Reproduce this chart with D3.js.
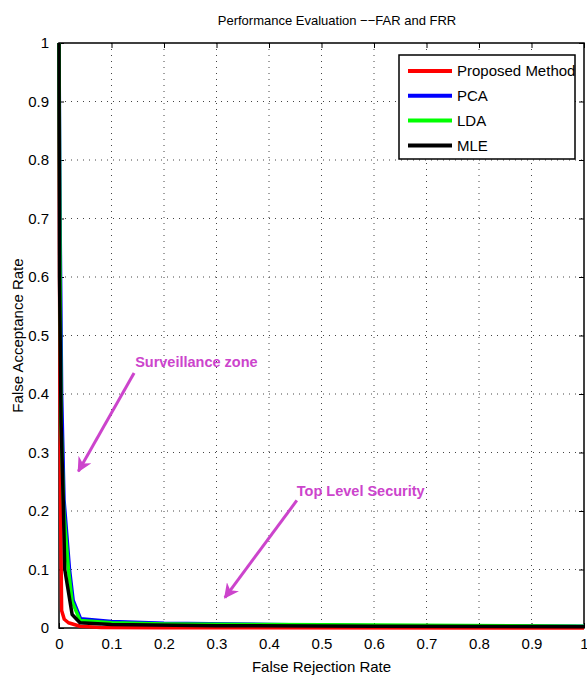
<!DOCTYPE html>
<html>
<head>
<meta charset="utf-8">
<script src="https://cdn.jsdelivr.net/npm/d3@7"></script>
<style>
  body { margin: 0; background: #fff; }
  svg { font-family: "Liberation Sans", Arial, sans-serif; }
</style>
</head>
<body>
<div id="chart"></div>
<script>
// FRR (x) vs FAR (y) per method
var proposed = [[0,1],[0.001,0.6],[0.003,0.2],[0.005,0.03],[0.01,0.015],[0.018,0.009],[0.04,0.003],[0.08,0.001],[0.2,0.0005],[1,0]]
var pca = [[0,1],[0.002,0.7],[0.005,0.4],[0.0095,0.22],[0.02,0.1],[0.027,0.047],[0.041,0.016],[0.1,0.011],[0.2,0.008],[0.4,0.006],[0.6,0.004],[1,0.003]]
var lda = [[0,1],[0.002,0.6],[0.004,0.35],[0.009,0.2],[0.018,0.1],[0.025,0.045],[0.04,0.013],[0.1,0.009],[0.2,0.007],[0.4,0.006],[0.6,0.005],[1,0.003]]
var mle = [[0,1],[0.001,0.6],[0.004,0.35],[0.008,0.22],[0.011,0.1],[0.025,0.023],[0.04,0.009],[0.1,0.006],[0.3,0.004],[0.6,0.003],[1,0.002]]

var series_names = ["Proposed Method", "PCA", "LDA", "MLE"]
var series_colors = ["#ff0000", "#0000ff", "#00ff00", "#000000"]
var ticks = [0, 0.1, 0.2, 0.3, 0.4, 0.5, 0.6, 0.7, 0.8, 0.9, 1]

// annotations: text anchor and arrow (from -> to) in data units
var notes = [
    {text: "Surveillance zone", at: [0.145, 0.455], from: [0.143, 0.436], to: [0.037, 0.268]},
    {text: "Top Level Security", at: [0.453, 0.234], from: [0.453, 0.218], to: [0.316, 0.052]}
]

var width = 587, height = 679
var margin = {top: 43, right: 3, bottom: 51, left: 59}
var w = width - margin.left - margin.right
var h = height - margin.top - margin.bottom

var x = d3.scaleLinear().domain([0, 1]).range([0, w])
var y = d3.scaleLinear().domain([0, 1]).range([h, 0])

var svg = d3.select("#chart")
    .append("svg")
    .attr("width", width)
    .attr("height", height)

svg.append("defs").append("marker")
    .attr("id", "head")
    .attr("viewBox", "0 0 10 10")
    .attr("refX", 9).attr("refY", 5)
    .attr("markerWidth", 5).attr("markerHeight", 5)
    .attr("markerUnits", "strokeWidth")
    .attr("orient", "auto")
    .append("path")
    .attr("d", "M0,0 L10,5 L0,10 L3,5 Z")
    .style("fill", "#cc44cc")

svg.append("text")
    .attr("x", 337)
    .attr("y", 25)
    .style("text-anchor", "middle")
    .style("font-size", "13px")
    .text("Performance Evaluation \u2212\u2212FAR and FRR")

var g = svg.append("g")
    .attr("transform", "translate(" + margin.left + "," + margin.top + ")")

// grid
g.selectAll(".gx").data(ticks.slice(1, -1)).enter().append("line")
    .attr("x1", d => x(d)).attr("x2", d => x(d))
    .attr("y1", 0).attr("y2", h)
    .style("stroke", "#444").style("stroke-dasharray", "1,5")
g.selectAll(".gy").data(ticks.slice(1, -1)).enter().append("line")
    .attr("y1", d => y(d)).attr("y2", d => y(d))
    .attr("x1", 0).attr("x2", w)
    .style("stroke", "#444").style("stroke-dasharray", "1,5")

// axes, ticks inside on all four sides
var fmt = d => d === 0 ? "0" : d === 1 ? "1" : d3.format(".1f")(d)
function styleAxis(sel) {
    sel.select(".domain").remove()
    sel.selectAll(".tick line").style("stroke", "#000")
    sel.selectAll(".tick text").style("font-size", "15px").style("fill", "#000")
        .style("font-family", "'Liberation Sans', Arial, sans-serif")
}
g.append("g").attr("transform", "translate(0," + h + ")")
    .call(d3.axisBottom(x).tickValues(ticks).tickFormat(fmt).tickSizeInner(-5).tickPadding(10))
    .call(styleAxis)
g.append("g")
    .call(d3.axisLeft(y).tickValues(ticks).tickFormat(fmt).tickSizeInner(-5).tickPadding(10))
    .call(styleAxis)
g.append("g")
    .call(d3.axisTop(x).tickValues(ticks).tickFormat("").tickSizeInner(-5))
    .call(styleAxis)
g.append("g").attr("transform", "translate(" + w + ",0)")
    .call(d3.axisRight(y).tickValues(ticks).tickFormat("").tickSizeInner(-5))
    .call(styleAxis)

g.append("rect")
    .attr("width", w).attr("height", h)
    .style("fill", "none").style("stroke", "#000").style("stroke-width", 1.5)

// curves
var line = d3.line().x(d => x(d[0])).y(d => y(d[1]))
var all = [proposed, pca, lda, mle]
all.forEach(function (s, i) {
    g.append("path")
        .datum(s)
        .attr("d", line)
        .style("fill", "none")
        .style("stroke", series_colors[i])
        .style("stroke-width", 3.5)
        .style("stroke-linejoin", "round")
})

// annotations
notes.forEach(function (n) {
    g.append("line")
        .attr("x1", x(n.from[0])).attr("y1", y(n.from[1]))
        .attr("x2", x(n.to[0])).attr("y2", y(n.to[1]))
        .style("stroke", "#cc44cc").style("stroke-width", 3)
        .attr("marker-end", "url(#head)")
    g.append("text")
        .attr("x", x(n.at[0])).attr("y", y(n.at[1]))
        .attr("dy", "0.35em")
        .style("fill", "#cc44cc")
        .style("font-size", "14.5px")
        .style("font-weight", "bold")
        .text(n.text)
})

// legend
var lg = svg.append("g").attr("transform", "translate(399,55)")
lg.append("rect")
    .attr("width", 176).attr("height", 104)
    .style("fill", "#fff").style("stroke", "#000").style("stroke-width", 1.5)
series_names.forEach(function (name, i) {
    var yy = 16 + i * 24.8
    lg.append("line")
        .attr("x1", 9).attr("x2", 53).attr("y1", yy).attr("y2", yy)
        .style("stroke", series_colors[i]).style("stroke-width", 4)
    lg.append("text")
        .attr("x", 58).attr("y", yy).attr("dy", "0.35em")
        .style("font-size", "15px")
        .text(name)
})

// axis labels
svg.append("text")
    .attr("x", margin.left + w / 2)
    .attr("y", 672)
    .style("text-anchor", "middle")
    .style("font-size", "15px")
    .text("False Rejection Rate")
svg.append("text")
    .attr("transform", "translate(23," + (margin.top + h / 2) + ") rotate(-90)")
    .style("text-anchor", "middle")
    .style("font-size", "15px")
    .text("False Acceptance Rate")
</script>
</body>
</html>
